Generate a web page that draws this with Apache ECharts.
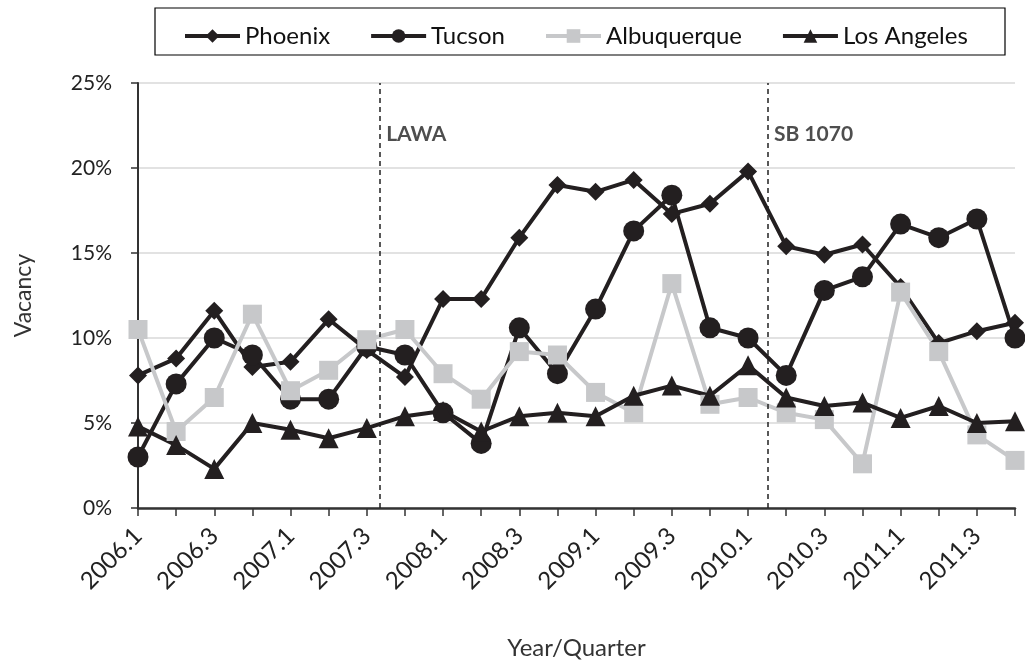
<!DOCTYPE html>
<html><head><meta charset="utf-8">
<script src="https://cdn.jsdelivr.net/npm/echarts@6/dist/echarts.min.js"></script>
<style>html,body{margin:0;padding:0;background:#fff}#c{width:1025px;height:662px}</style>
</head><body><div id="c"></div>
<script>
var categories = ['2006.1','2006.2','2006.3','2006.4','2007.1','2007.2','2007.3','2007.4',
  '2008.1','2008.2','2008.3','2008.4','2009.1','2009.2','2009.3','2009.4',
  '2010.1','2010.2','2010.3','2010.4','2011.1','2011.2','2011.3','2011.4'];
var phoenix = [7.8,8.8,11.6,8.3,8.6,11.1,9.3,7.7,12.3,12.3,15.9,19.0,18.6,19.3,17.3,17.9,19.8,15.4,14.9,15.5,13.0,9.7,10.4,10.9];
var tucson = [3.0,7.3,10.0,9.0,6.4,6.4,9.5,9.0,5.6,3.8,10.6,7.9,11.7,16.3,18.4,10.6,10.0,7.8,12.8,13.6,16.7,15.9,17.0,10.0];
var albuquerque = [10.5,4.5,6.5,11.4,6.9,8.1,9.9,10.5,7.9,6.4,9.2,9.0,6.8,5.6,13.2,6.1,6.5,5.6,5.2,2.6,12.7,9.2,4.3,2.8];
var losAngeles = [4.8,3.7,2.3,5.0,4.6,4.1,4.7,5.4,5.7,4.5,5.4,5.6,5.4,6.6,7.2,6.6,8.4,6.5,6.0,6.2,5.3,6.0,5.0,5.1];
var events = [{name:'LAWA', x:6.35}, {name:'SB 1070', x:16.52}];
var yTicks = [0,5,10,15,20,25];

var BLACK = '#231f20', GRAY = '#c7c8ca';
var FONT = 'Lato';
var chart = echarts.init(document.getElementById('c'));
function lineSeries(name, data, color, symbol, size) {
  return {name:name, type:'line', data:data, symbol:symbol, symbolSize:size,
    lineStyle:{color:color, width:4}, itemStyle:{color:color}, color:color, showSymbol:true};
}
chart.setOption({
  animation:false,
  textStyle:{fontFamily:FONT},
  graphic:[{type:'rect', shape:{x:155, y:8, width:850, height:47}, style:{fill:'none', stroke:'#000', lineWidth:1.2}, z:-1}],
  legend:{top:19, left:178, itemWidth:55, itemHeight:17, itemGap:39,
    lineStyle:{width:4},
    textStyle:{fontSize:24, color:'#111', fontFamily:FONT},
    data:['Phoenix','Tucson','Albuquerque','Los Angeles']},
  grid:{left:138, right:10, top:83, bottom:154, containLabel:false, outerBoundsMode:'none'},
  xAxis:[{type:'category', data:categories, boundaryGap:false,
      name:'Year/Quarter', nameLocation:'middle', nameGap:128,
      nameTextStyle:{fontSize:24, color:'#333', fontFamily:FONT},
      axisLine:{lineStyle:{color:'#333', width:2.5}},
      axisTick:{show:true, interval:0, length:8, lineStyle:{color:'#333', width:1.5}},
      axisLabel:{interval:1, rotate:45, fontSize:24, color:'#222', margin:24, fontFamily:FONT},
      splitLine:{show:false}},
    {type:'value', min:0, max:categories.length-1, show:false}],
  yAxis:{type:'value', min:yTicks[0], max:yTicks[yTicks.length-1], interval:5,
    name:'Vacancy', nameLocation:'middle', nameGap:103,
    nameTextStyle:{fontSize:23, color:'#333', fontFamily:FONT},
    axisLine:{show:true, lineStyle:{color:'#333', width:2}},
    axisTick:{show:true, length:7, lineStyle:{color:'#333', width:1.5}},
    axisLabel:{formatter:'{value}%', fontSize:21, color:'#222', margin:26, fontFamily:FONT},
    splitLine:{lineStyle:{color:'#d9d9d9', width:1.5}}},
  series:[
    lineSeries('Phoenix', phoenix, BLACK, 'diamond', 18),
    lineSeries('Tucson', tucson, BLACK, 'circle', 21),
    lineSeries('Albuquerque', albuquerque, GRAY, 'rect', 19),
    lineSeries('Los Angeles', losAngeles, BLACK, 'triangle', 20),
    {type:'scatter', xAxisIndex:1, yAxisIndex:0, symbolSize:0, silent:true,
      data:events.map(function(e){return {name:e.name, value:[e.x, 22.0]};}),
      label:{show:true, position:'right', distance:6, formatter:'{b}', fontSize:21, fontWeight:'bold', color:'#222', fontFamily:FONT},
      markLine:{silent:true, symbol:'none', label:{show:false},
        lineStyle:{color:'#222', type:[5,4], width:1.5},
        data:events.map(function(e){return {xAxis:e.x};})}}
  ]
});
</script></body></html>
